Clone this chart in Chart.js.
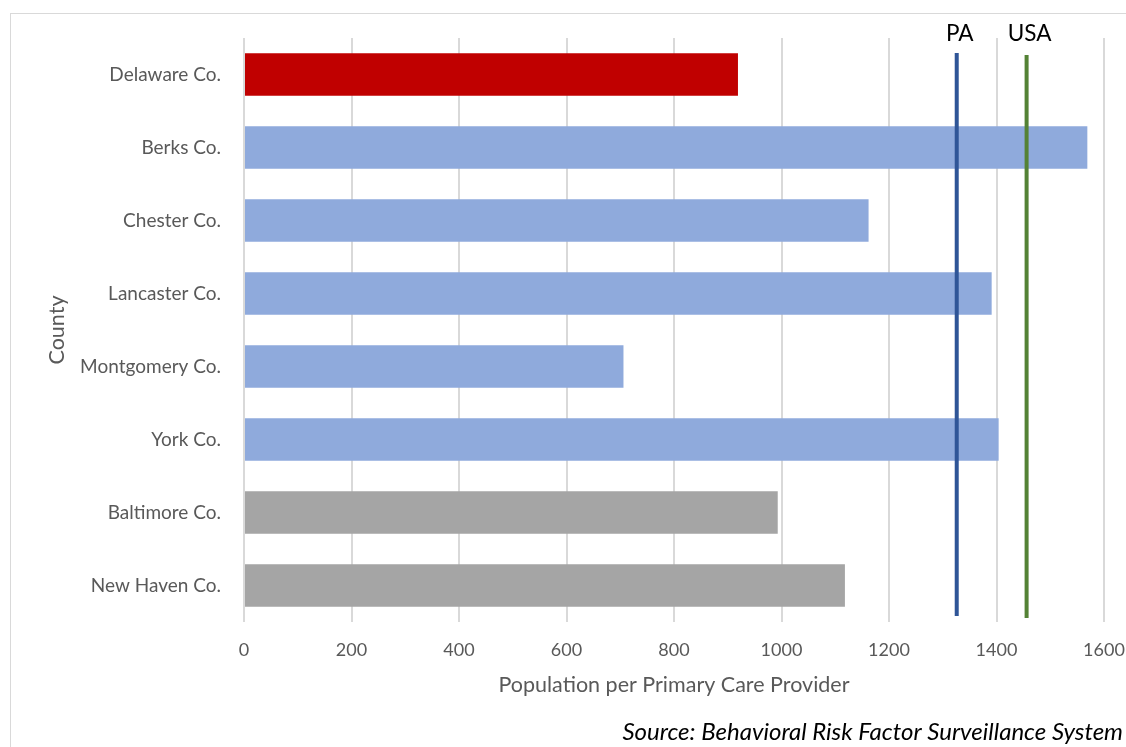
<!DOCTYPE html>
<html>
<head>
<meta charset="utf-8">
<script src="https://cdn.jsdelivr.net/npm/chart.js@4.4.1/dist/chart.umd.min.js"></script>
<style>
  html, body { margin: 0; padding: 0; background: #ffffff; }
  #wrap { position: relative; width: 1126px; height: 747px; overflow: hidden; }
  #frame { position: absolute; left: 10px; top: 13px; width: 1300px; height: 900px; border: 1px solid #d9d9d9; box-sizing: border-box; }
  canvas { position: absolute; left: 0; top: 0; }
</style>
</head>
<body>
<div id="wrap">
  <div id="frame"></div>
  <canvas id="c" width="1126" height="747"></canvas>
</div>
<script>
// ---- data ----
const categories = ['Delaware Co.', 'Berks Co.', 'Chester Co.', 'Lancaster Co.', 'Montgomery Co.', 'York Co.', 'Baltimore Co.', 'New Haven Co.'];
const values = [919, 1569, 1162, 1391, 706, 1404, 993, 1118];
const groups = ['focus', 'region', 'region', 'region', 'region', 'region', 'peer', 'peer'];
const refLabels = ['PA', 'USA'];
const refValues = [1326, 1456];
const xTicks = [0, 200, 400, 600, 800, 1000, 1200, 1400, 1600];
const xTitle = 'Population per Primary Care Provider';
const yTitle = 'County';
const sourceText = 'Source: Behavioral Risk Factor Surveillance System';

// ---- styles ----
const groupColors = { focus: '#C00000', region: '#8FAADC', peer: '#A5A5A5' };
const refColors = ['#2F5597', '#548235'];
const FONT = "Lato, 'Open Sans', 'DejaVu Sans', sans-serif";

const refLinePlugin = {
  id: 'refLines',
  afterDatasetsDraw(chart) {
    const ctx = chart.ctx;
    const xs = chart.scales.x;
    const area = chart.chartArea;
    ctx.save();
    refValues.forEach((v, i) => {
      const px = xs.getPixelForValue(v);
      ctx.strokeStyle = refColors[i];
      ctx.lineWidth = 4;
      ctx.beginPath();
      ctx.moveTo(px, area.top + 15 + i * 2);
      ctx.lineTo(px, area.bottom - 6 + i * 2);
      ctx.stroke();
      ctx.fillStyle = '#000000';
      ctx.font = '22.5px ' + FONT;
      ctx.textAlign = 'center';
      ctx.textBaseline = 'middle';
      ctx.fillText(refLabels[i], px + 3, 34);
    });
    ctx.font = 'italic 24px ' + FONT;
    ctx.fillStyle = '#000000';
    ctx.textAlign = 'right';
    ctx.textBaseline = 'middle';
    ctx.fillText(sourceText, 1123, 732);
    ctx.restore();
  }
};

new Chart(document.getElementById('c'), {
  type: 'bar',
  data: {
    labels: categories,
    datasets: [{
      data: values,
      backgroundColor: groups.map(g => groupColors[g]),
      borderWidth: 0,
      barPercentage: 0.58,
      categoryPercentage: 1.0
    }]
  },
  options: {
    indexAxis: 'y',
    responsive: false,
    animation: false,
    devicePixelRatio: 1,
    layout: { padding: { left: 0, top: 38, right: 22, bottom: 35 } },
    plugins: { legend: { display: false }, tooltip: { enabled: false } },
    scales: {
      x: {
        min: 0, max: 1600,
        afterBuildTicks(scale) { scale.ticks = xTicks.map(v => ({ value: v })); },
        afterFit(scale) { scale.height = 90; scale.paddingLeft = 0; scale.paddingRight = 0; },
        grid: { color: '#d9d9d9', lineWidth: 2, drawTicks: false },
        border: { display: false },
        ticks: { color: '#595959', font: { family: FONT, size: 18 }, padding: 17, callback: v => String(v) },
        title: { display: true, text: xTitle, color: '#595959', font: { family: FONT, size: 21.5 }, padding: { top: 0, bottom: 14 } }
      },
      y: {
        afterFit(scale) { scale.width = 244; scale.paddingTop = 0; scale.paddingBottom = 0; },
        grid: { display: false },
        border: { display: false },
        ticks: { color: '#595959', font: { family: FONT, size: 19 }, padding: 15 },
        title: { display: true, text: yTitle, color: '#595959', font: { family: FONT, size: 21.5 }, padding: { top: 44, bottom: 0 } }
      }
    }
  },
  plugins: [refLinePlugin]
});
</script>
</body>
</html>
